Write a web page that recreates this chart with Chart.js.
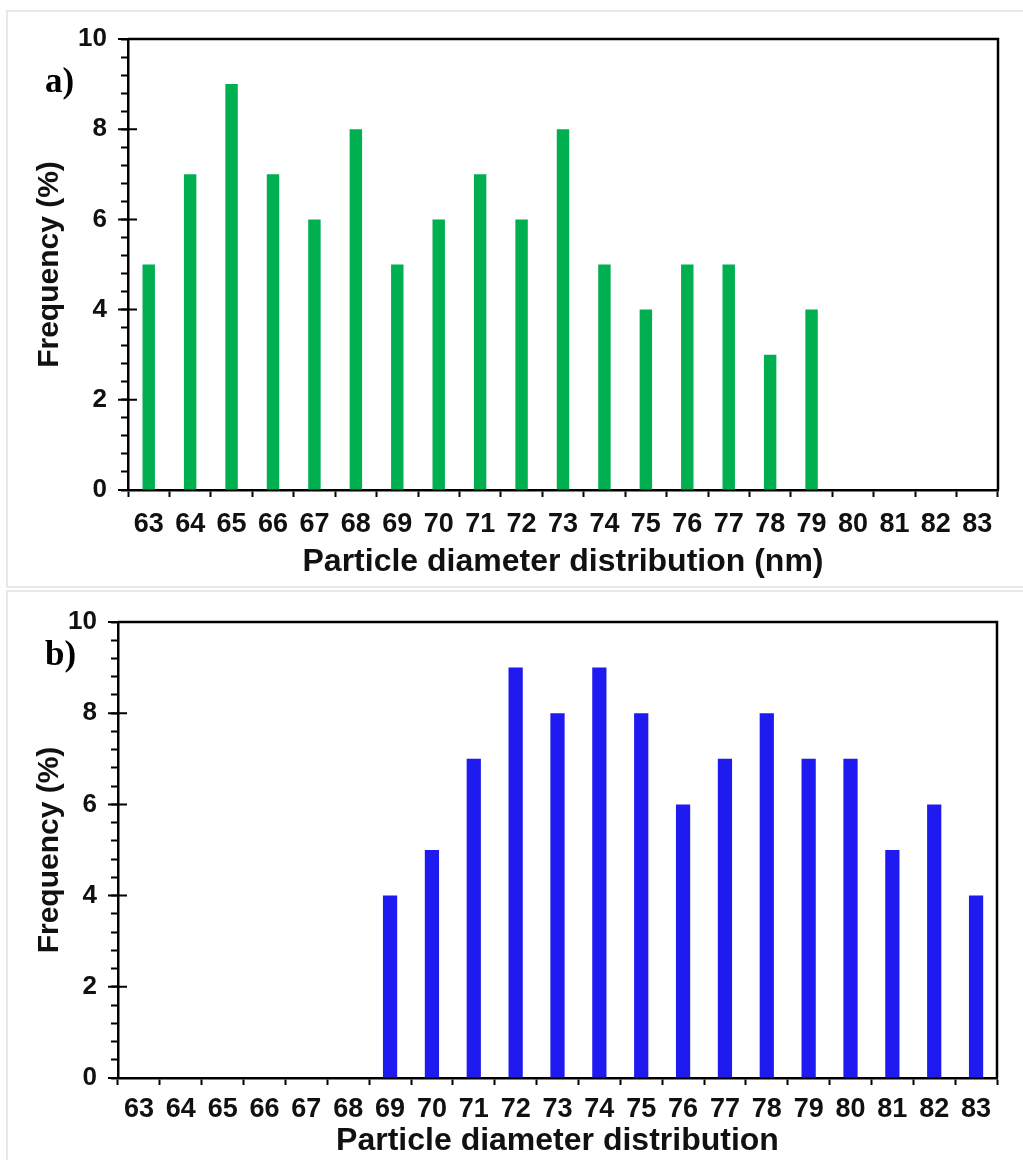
<!DOCTYPE html>
<html>
<head>
<meta charset="utf-8">
<script src="https://cdn.jsdelivr.net/npm/chart.js@4.4.1/dist/chart.umd.min.js"></script>
<style>
    body { margin: 0; background: #fff; width: 1023px; height: 1160px; overflow: hidden; position: relative; }
    .panel-box { position: absolute; border: 2px solid #e8e8e8; box-sizing: border-box; }
    .chart-wrap { position: absolute; left: 0; }
</style>
</head>
<body>
<div class="panel-box" style="left:6px; top:10px; width:1030px; height:578px;"></div>
<div class="panel-box" style="left:6px; top:590px; width:1030px; height:600px;"></div>
<div class="chart-wrap" style="top:0px;"><canvas id="chart-a" width="1023" height="588"></canvas></div>
<div class="chart-wrap" style="top:588px;"><canvas id="chart-b" width="1023" height="572"></canvas></div>

<script>
// Particle size histograms - panel a (green) and panel b (blue)

const diameters = ['63', '64', '65', '66', '67', '68', '69', '70', '71', '72', '73',
                   '74', '75', '76', '77', '78', '79', '80', '81', '82', '83'];

const freqA = [5, 7, 9, 7, 6, 8, 5, 6, 7, 6, 8, 5, 4, 5, 5, 3, 4, null, null, null, null];
const freqB = [null, null, null, null, null, null, 4, 5, 7, 9, 8, 9, 8, 6, 7, 8, 7, 7, 5, 6, 4];

const yMajorTicks = [0, 2, 4, 6, 8, 10];

const fontFace = "'Liberation Sans', Arial, sans-serif";

// Draws the closed frame, the long major ticks and the panel letter
const framePlugin = {
    id: 'frame',
    afterDraw(chart, args, opts) {
        const { ctx, chartArea: a } = chart;
        const y = chart.scales.y;
        ctx.save();
        ctx.strokeStyle = '#000';
        ctx.lineWidth = 2.5;
        ctx.beginPath();
        ctx.moveTo(a.left, a.top);
        ctx.lineTo(a.right, a.top);
        ctx.lineTo(a.right, a.bottom);
        ctx.stroke();

        ctx.lineWidth = 2;
        ctx.beginPath();
        yMajorTicks.forEach(v => {
            const py = y.getPixelForValue(v);
            ctx.moveTo(a.left - 10, py);
            ctx.lineTo(a.left + 9, py);
        });
        ctx.stroke();

        ctx.fillStyle = '#000';
        ctx.font = "bold 35px 'Liberation Serif', 'Times New Roman', serif";
        ctx.textBaseline = 'alphabetic';
        ctx.fillText(opts.label, opts.lx, opts.ly);
        ctx.restore();
    }
};

function makeChart(canvasId, values, color, cfg) {
    const ctx = document.getElementById(canvasId).getContext('2d');
    return new Chart(ctx, {
        type: 'bar',
        data: {
            labels: diameters,
            datasets: [{
                data: values,
                backgroundColor: color,
                borderWidth: 0,
                barPercentage: cfg.barPct,
                categoryPercentage: 1.0
            }]
        },
        options: {
            responsive: false,
            animation: false,
            layout: { padding: { top: cfg.top, right: cfg.right, left: 0, bottom: 0 } },
            plugins: {
                legend: { display: false },
                tooltip: { enabled: false },
                frame: { label: cfg.label, lx: 45, ly: cfg.labelY }
            },
            scales: {
                x: {
                    offset: true,
                    grid: { offset: true, drawOnChartArea: false, drawTicks: true, tickLength: 7, tickWidth: 2, tickColor: '#000' },
                    border: { display: true, color: '#000', width: 2.5 },
                    ticks: { color: '#111', font: { family: fontFace, size: 27, weight: 'bold' }, padding: cfg.xTickPad, maxRotation: 0, autoSkip: false },
                    title: {
                        display: true,
                        text: cfg.xTitle,
                        color: '#111',
                        font: { family: fontFace, size: 32, weight: 'bold' },
                        padding: { top: 0, bottom: cfg.xTitlePad }
                    },
                    afterFit: (scale) => { scale.height = cfg.xHeight; }
                },
                y: {
                    min: 0,
                    max: 10,
                    grid: { drawOnChartArea: false, drawTicks: true, tickLength: 7, tickWidth: 2, tickColor: '#000' },
                    border: { display: true, color: '#000', width: 2.5 },
                    ticks: {
                        stepSize: 0.4,
                        maxTicksLimit: 100,
                        autoSkip: false,
                        padding: cfg.yTickPad,
                        color: '#111',
                        font: { family: fontFace, size: 26, weight: 'bold' },
                        callback: (val) => {
                            const r = Math.round(val * 10) / 10;
                            return yMajorTicks.includes(r) ? String(r) : '';
                        }
                    },
                    title: {
                        display: true,
                        text: 'Frequency (%)',
                        color: '#111',
                        font: { family: fontFace, size: 30, weight: 'bold' },
                        padding: { top: cfg.yTitlePad, bottom: 0 }
                    },
                    afterFit: (scale) => { scale.width = cfg.yWidth; }
                }
            }
        },
        plugins: [framePlugin]
    });
}

window.addEventListener('DOMContentLoaded', () => {
    makeChart('chart-a', freqA, '#00B050', {
        top: 39, right: 25, xHeight: 98, yWidth: 128,
        barPct: 0.3, label: 'a)', labelY: 92, xTickPad: 11,
        xTitle: 'Particle diameter distribution (nm)', xTitlePad: 7,
        yTickPad: 14, yTitlePad: 32
    });
    makeChart('chart-b', freqB, '#1F1AEF', {
        top: 34, right: 26, xHeight: 82, yWidth: 118,
        barPct: 0.34, label: 'b)', labelY: 77, xTickPad: 8,
        xTitle: 'Particle diameter distribution', xTitlePad: 0,
        yTickPad: 14, yTitlePad: 32
    });
});
</script>
</body>
</html>
